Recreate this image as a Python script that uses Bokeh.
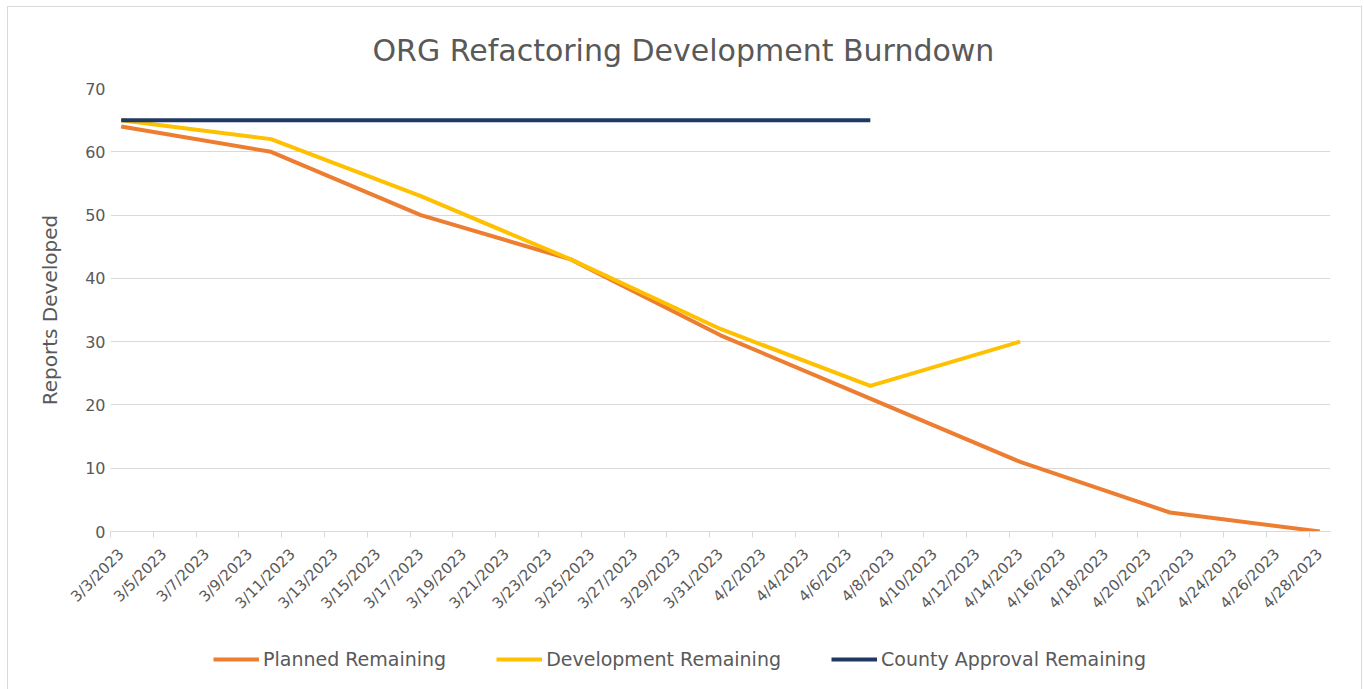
import math
import pandas as pd
from bokeh.plotting import figure
from bokeh.layouts import column
from bokeh.models import (FixedTicker, DatetimeTickFormatter, Legend, LegendItem,
                          Range1d, ColumnDataSource, Title)
from bokeh.embed import file_html
from bokeh.resources import INLINE

# ---- data ----
planned_dates = ["2023-03-03", "2023-03-10", "2023-03-17", "2023-03-24", "2023-03-31",
                 "2023-04-07", "2023-04-14", "2023-04-21", "2023-04-28"]
planned_remaining = [64, 60, 50, 43, 31, 21, 11, 3, 0]

dev_dates = ["2023-03-03", "2023-03-10", "2023-03-17", "2023-03-24", "2023-03-31",
             "2023-04-07", "2023-04-14"]
dev_remaining = [65, 62, 53, 43, 32, 23, 30]

county_dates = ["2023-03-03", "2023-03-10", "2023-03-17", "2023-03-24", "2023-03-31",
                "2023-04-07"]
county_remaining = [65, 65, 65, 65, 65, 65]

series_names = ["Planned Remaining", "Development Remaining", "County Approval Remaining"]
series_colors = ["#ED7D31", "#FFC000", "#203864"]

axis_start = "2023-03-03"
axis_end = "2023-04-28"
tick_step_days = 2
y_ticks = [0, 10, 20, 30, 40, 50, 60, 70]

FONT = "DejaVu Sans"
GRAY = "#595959"
GRID = "#d9d9d9"

start = pd.Timestamp(axis_start)
end = pd.Timestamp(axis_end)
half = pd.Timedelta(hours=12)
tick_dates = pd.date_range(start, end, freq=f"{tick_step_days}D")
to_ms = lambda t: t.value / 1e6
major = [to_ms(t) for t in tick_dates]
minor = [to_ms(t - half) for t in tick_dates]

# container offset (chart border drawn by the wrapping column)
OX, OY = 8, 7
W = 1353
MAIN_H = 630 - OY
p = figure(x_axis_type="datetime", output_backend="svg", toolbar_location=None,
           width=W, height=MAIN_H,
           min_border_left=110 - OX, min_border_right=W - (1330 - OX),
           min_border_top=88 - OY,
           min_border_bottom=MAIN_H - (531 - OY),
           x_range=Range1d(to_ms(start - half), to_ms(end + half)),
           y_range=Range1d(0, 70))
p.outline_line_color = None
p.background_fill_color = "white"
p.border_fill_color = "white"

t = Title(text="ORG Refactoring Development Burndown", align="left",
          text_font=FONT, text_font_size="30px", text_font_style="normal",
          text_color=GRAY, offset=262, standoff=42)
p.add_layout(t, "above")

# x axis
p.xaxis.ticker = FixedTicker(ticks=major, minor_ticks=minor)
p.xaxis.formatter = DatetimeTickFormatter(days="%-m/%-d/%Y", months="%-m/%-d/%Y")
p.xaxis.major_label_orientation = math.pi / 4
p.xaxis.major_tick_line_color = None
p.xaxis.major_tick_out = 0
p.xaxis.major_tick_in = 0
p.xaxis.minor_tick_line_color = GRID
p.xaxis.minor_tick_in = 0
p.xaxis.minor_tick_out = 6
p.xaxis.axis_line_color = GRID
p.xaxis.major_label_text_font = FONT
p.xaxis.major_label_text_font_size = "15px"
p.xaxis.major_label_text_color = GRAY
p.xaxis.major_label_standoff = 14
p.xgrid.grid_line_color = None

# y axis
p.yaxis.ticker = FixedTicker(ticks=y_ticks)
p.yaxis.axis_line_color = None
p.yaxis.major_tick_line_color = None
p.yaxis.major_tick_out = 0
p.yaxis.major_tick_in = 0
p.yaxis.minor_tick_line_color = None
p.yaxis.major_label_text_font = FONT
p.yaxis.major_label_text_font_size = "16px"
p.yaxis.major_label_text_color = GRAY
p.yaxis.major_label_standoff = 5
p.yaxis.axis_label = "Reports Developed"
p.yaxis.axis_label_text_font = FONT
p.yaxis.axis_label_text_font_size = "20px"
p.yaxis.axis_label_text_font_style = "normal"
p.yaxis.axis_label_text_color = GRAY
p.yaxis.axis_label_standoff = 20
p.ygrid.grid_line_color = GRID
p.ygrid.grid_line_width = 1

sources = [
    ColumnDataSource(dict(x=pd.to_datetime(planned_dates), y=planned_remaining)),
    ColumnDataSource(dict(x=pd.to_datetime(dev_dates), y=dev_remaining)),
    ColumnDataSource(dict(x=pd.to_datetime(county_dates), y=county_remaining)),
]
for src, col in zip(sources, series_colors):
    p.line("x", "y", source=src, line_color=col, line_width=4, line_join="round")

# ---- legend strip below the chart ----
LEG_H = 689 - 630
lf = figure(output_backend="svg", toolbar_location=None, width=W, height=LEG_H,
            min_border=0, x_range=Range1d(0, 1), y_range=Range1d(0, 1))
lf.axis.visible = False
lf.grid.grid_line_color = None
lf.outline_line_color = None
items = []
for name, src, col in zip(series_names, sources, series_colors):
    rr = lf.line("x", "y", source=src, line_color=col, line_width=4)
    items.append(LegendItem(label=name, renderers=[rr]))
legend = Legend(items=items, orientation="horizontal", location=(103, 19),
                label_text_font=FONT, label_text_font_size="19px", label_text_color=GRAY,
                glyph_width=46, glyph_height=20, label_standoff=4, spacing=50,
                border_line_color=None, background_fill_alpha=0, padding=0, margin=0)
lf.add_layout(legend, "center")

layout = column(p, lf, spacing=0,
                styles={"border": "1px solid #d9d9d9", "margin-left": "7px",
                        "margin-top": "6px"})
open("out.html", "w").write(file_html(layout, INLINE))
